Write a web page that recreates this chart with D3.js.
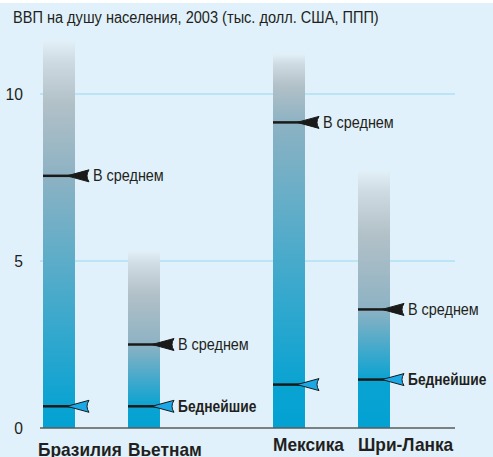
<!DOCTYPE html>
<html>
<head>
<meta charset="utf-8">
<script src="https://cdn.jsdelivr.net/npm/d3@7"></script>
<style>
  body { margin: 0; background: #fff; }
  svg { display: block; }
  text { font-family: "Liberation Sans", Arial, sans-serif; fill: #231f20; }
</style>
</head>
<body>
<svg id="chart" width="493" height="457"></svg>
<script>
// chart data (GDP per capita 2003, thousand USD PPP)
var categories = ["Бразилия", "Вьетнам", "Мексика", "Шри-Ланка"];
var topValues = [11.6, 5.3, 11.2, 7.7];
var averageValues = [7.55, 2.5, 9.15, 3.55];
var poorestValues = [0.65, 0.65, 1.3, 1.45];
var showPoorLabel = [false, true, false, true];
var yTicks = [0, 5, 10];
var title = "ВВП на душу населения, 2003 (тыс. долл. США, ППП)";
var avgLabel = "В среднем";
var poorLabel = "Беднейшие";

var W = 493, H = 457;
var svg = d3.select("#chart");

// narrow look of the original type: squeeze glyphs a little
function condense(sel, k) {
  sel.each(function() {
    var w = this.getComputedTextLength();
    d3.select(this)
      .attr("textLength", w * k)
      .attr("lengthAdjust", "spacingAndGlyphs");
  });
}

// light blue panel, thin white strip on top
svg.append("rect")
  .attr("x", 0).attr("y", 3)
  .attr("width", W).attr("height", H - 3)
  .attr("fill", "#e0f1fb");

var y = d3.scaleLinear().domain([0, 10]).range([428, 94]);

// bars come in two pairs with a wider gap between them
var xGroup = d3.scalePoint().domain([0, 1]).range([43, 273]);
var xInner = d3.scalePoint().domain([0, 1]).range([0, 85]);
function barX(i) { return xGroup(Math.floor(i / 2)) + xInner(i % 2); }
var barW = 32;

// gridlines
svg.selectAll(".grid")
  .data(yTicks.filter(function(d) { return d > 0; }))
  .enter()
  .append("line")
  .attr("class", "grid")
  .attr("x1", 40).attr("x2", 455)
  .attr("y1", function(d) { return y(d); })
  .attr("y2", function(d) { return y(d); })
  .attr("stroke", "#ade0f6")
  .attr("stroke-width", 1.5);

// tick labels
svg.selectAll(".tick")
  .data(yTicks)
  .enter()
  .append("text")
  .attr("class", "tick")
  .attr("x", 23)
  .attr("y", function(d) { return y(d) + 6; })
  .attr("text-anchor", "end")
  .attr("font-size", 17)
  .attr("fill", "#3a3a3a")
  .text(function(d) { return d; })
  .call(condense, 0.92);

// one gradient per bar: blue at the bottom, grey at the average, fading at the top
var defs = svg.append("defs");
categories.forEach(function(c, i) {
  var top = topValues[i], avg = averageValues[i];
  var g = defs.append("linearGradient")
    .attr("id", "grad" + i)
    .attr("gradientUnits", "userSpaceOnUse")
    .attr("x1", 0).attr("x2", 0)
    .attr("y1", y(0)).attr("y2", y(top));
  var stops = [
    [0, "#02a2d3"],
    [poorestValues[i] / top, "#0aa3d2"],
    [avg / top, "#8db2c3"],
    [(avg + (top - avg) * 0.55) / top, "#b3c1c8"],
    [(avg + (top - avg) * 0.85) / top, "#cfdbe2"],
    [1, "#e2f0f8"]
  ];
  stops.forEach(function(s) {
    g.append("stop").attr("offset", s[0]).attr("stop-color", s[1]);
  });
});

svg.selectAll(".bar")
  .data(categories)
  .enter()
  .append("rect")
  .attr("class", "bar")
  .attr("x", function(d, i) { return barX(i); })
  .attr("y", function(d, i) { return y(topValues[i]); })
  .attr("width", barW)
  .attr("height", function(d, i) { return y(0) - y(topValues[i]); })
  .attr("fill", function(d, i) { return "url(#grad" + i + ")"; });

// x axis line
svg.append("line")
  .attr("x1", 40).attr("x2", 455)
  .attr("y1", y(0)).attr("y2", y(0))
  .attr("stroke", "#5a5a5a")
  .attr("stroke-width", 1.5);

// marker: line from bar edge, then dart pointing left
var tipOff = 24, dartLen = 22;
function dartPath(tx, ty) {
  return "M" + tx + "," + ty +
    " L" + (tx + dartLen) + "," + (ty - 6) +
    " Q" + (tx + dartLen - 4) + "," + ty + " " + (tx + dartLen) + "," + (ty + 6) + " Z";
}
function drawMarkers(values, fill, label, bold, showLabel, squeeze) {
  categories.forEach(function(c, i) {
    var x0 = barX(i), yy = y(values[i]), tx = x0 + tipOff;
    svg.append("line")
      .attr("x1", x0).attr("x2", tx + 4)
      .attr("y1", yy).attr("y2", yy)
      .attr("stroke", "#1a1a1a")
      .attr("stroke-width", 2.5);
    svg.append("path")
      .attr("d", dartPath(tx, yy))
      .attr("fill", fill)
      .attr("stroke", "#1a1a1a")
      .attr("stroke-width", 1)
      .attr("stroke-linejoin", "miter");
    if (showLabel[i]) {
      svg.append("text")
        .attr("x", tx + dartLen + 4)
        .attr("y", yy + 5.5)
        .attr("font-size", 16)
        .attr("font-weight", bold ? "bold" : "normal")
        .text(label)
        .call(condense, squeeze);
    }
  });
}
drawMarkers(averageValues, "#1a1a1a", avgLabel, false, [true, true, true, true], 0.9);
drawMarkers(poorestValues, "#1aa9e6", poorLabel, true, showPoorLabel, 0.86);

// category labels, first pair sits a bit lower
svg.selectAll(".cat")
  .data(categories)
  .enter()
  .append("text")
  .attr("class", "cat")
  .attr("x", function(d, i) { return barX(i) - (i === 0 ? 5 : 0); })
  .attr("y", function(d, i) { return i < 2 ? 456 : 451; })
  .attr("font-size", 19)
  .attr("font-weight", "bold")
  .text(function(d) { return d; })
  .call(condense, 0.91);

// title
svg.append("text")
  .attr("x", 13).attr("y", 23)
  .attr("font-size", 16)
  .attr("fill", "#2a2a2a")
  .text(title)
  .call(condense, 0.91);
</script>
</body>
</html>
